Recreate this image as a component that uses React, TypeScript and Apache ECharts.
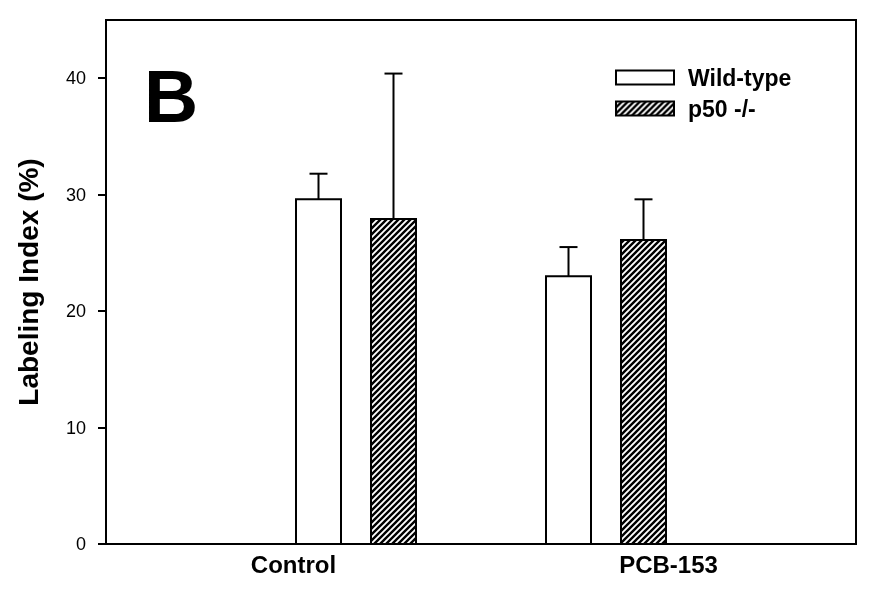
import React, { useEffect, useRef } from 'react';
import * as echarts from 'echarts';

const categories = ['Control', 'PCB-153'];
const seriesNames = ['Wild-type', 'p50 -/-'];
const wildType = [29.6, 23.0];
const wildTypeErr = [2.2, 2.5];
const p50 = [27.9, 26.1];
const p50Err = [12.5, 3.5];
const yTicks = [0, 10, 20, 30, 40];

const FONT = '"Liberation Sans", Arial, Helvetica, sans-serif';

function makeHatch(): HTMLCanvasElement {
  const s = 6;
  const c = document.createElement('canvas');
  c.width = s;
  c.height = s;
  const ctx = c.getContext('2d')!;
  ctx.fillStyle = '#fff';
  ctx.fillRect(0, 0, s, s);
  ctx.strokeStyle = '#000';
  ctx.lineWidth = 2.4;
  ctx.beginPath();
  ctx.moveTo(-1, s + 1);
  ctx.lineTo(s + 1, -1);
  ctx.moveTo(-1, 1);
  ctx.lineTo(1, -1);
  ctx.moveTo(s - 1, s + 1);
  ctx.lineTo(s + 1, s - 1);
  ctx.stroke();
  return c;
}

export default function App() {
  const ref = useRef<HTMLDivElement>(null);
  useEffect(() => {
    if (!ref.current) return;
    const chart = echarts.init(ref.current, undefined, { renderer: 'svg' });
    const hatch = { image: makeHatch(), repeat: 'repeat' } as any;

    // axis layout: x from 0..12, groups centered at 4 and 8, labels at 3 and 9
    const groupCenters = [4, 8];
    const labelPos = [3, 9];
    const offset = 0.6;
    const barW = 0.72;

    const makeRender = (fill: any) => (params: any, api: any) => {
      const x = api.value(0);
      const y = api.value(1);
      const e = api.value(2);
      const base = api.coord([x, 0]);
      const top = api.coord([x, y]);
      const errTop = api.coord([x, y + e]);
      const w = api.size([barW, 0])[0];
      const capW = 18;
      return {
        type: 'group',
        children: [
          {
            type: 'line',
            shape: { x1: top[0], y1: top[1], x2: errTop[0], y2: errTop[1] },
            style: { stroke: '#000', lineWidth: 2 },
          },
          {
            type: 'line',
            shape: { x1: errTop[0] - capW / 2, y1: errTop[1], x2: errTop[0] + capW / 2, y2: errTop[1] },
            style: { stroke: '#000', lineWidth: 2 },
          },
          {
            type: 'rect',
            shape: { x: base[0] - w / 2, y: top[1], width: w, height: base[1] - top[1] },
            style: { fill, stroke: '#000', lineWidth: 2 },
          },
        ],
      };
    };

    const wtData = categories.map((_, i) => [groupCenters[i] - offset, wildType[i], wildTypeErr[i]]);
    const p50Data = categories.map((_, i) => [groupCenters[i] + offset, p50[i], p50Err[i]]);

    chart.setOption({
      animation: false,
      grid: {
        left: 106,
        right: 20,
        top: 20,
        bottom: 49,
        show: true,
        borderColor: '#000',
        borderWidth: 2,
        backgroundColor: 'transparent',
      },
      xAxis: {
        type: 'value',
        min: 0,
        max: 12,
        axisLine: { show: true, lineStyle: { color: '#000', width: 2 } },
        axisTick: { show: false },
        splitLine: { show: false },
        axisLabel: {
          customValues: labelPos,
          formatter: (v: number) => categories[labelPos.indexOf(v)] ?? '',
          color: '#000',
          fontFamily: FONT,
          fontWeight: 'bold',
          fontSize: 24,
          margin: 8,
        },
      },
      yAxis: {
        type: 'value',
        min: 0,
        max: 45,
        interval: 10,
        name: 'Labeling Index (%)',
        nameLocation: 'middle',
        nameGap: 64,
        nameTextStyle: { color: '#000', fontFamily: FONT, fontWeight: 'bold', fontSize: 28 },
        axisLine: { show: true, lineStyle: { color: '#000', width: 2 } },
        axisTick: { show: true, length: 8, customValues: yTicks, lineStyle: { color: '#000', width: 2 } },
        splitLine: { show: false },
        axisLabel: {
          customValues: yTicks,
          color: '#000',
          fontFamily: FONT,
          fontSize: 18,
          margin: 20,
        },
      },
      legend: {
        orient: 'vertical',
        left: 615,
        top: 66,
        padding: 0,
        icon: 'rect',
        itemWidth: 58,
        itemHeight: 14,
        itemGap: 8,
        textStyle: { color: '#000', fontFamily: FONT, fontWeight: 'bold', fontSize: 23, padding: [0, 0, 0, 9] },
        data: seriesNames,
      },
      graphic: [
        {
          type: 'text',
          left: 144,
          top: 58,
          style: { text: 'B', fontFamily: FONT, fontWeight: 'bold', fontSize: 75, fill: '#000' },
        },
      ],
      series: [
        {
          type: 'custom',
          name: seriesNames[0],
          renderItem: makeRender('#fff'),
          encode: { x: 0, y: 1 },
          itemStyle: { color: '#fff', borderColor: '#000', borderWidth: 2 },
          data: wtData,
        },
        {
          type: 'custom',
          name: seriesNames[1],
          renderItem: makeRender(hatch),
          encode: { x: 0, y: 1 },
          itemStyle: { color: hatch, borderColor: '#000', borderWidth: 2 },
          data: p50Data,
        },
      ],
    });
    return () => chart.dispose();
  }, []);
  return <div ref={ref} style={{ position: 'fixed', left: 0, top: 0, width: 876, height: 593 }} />;
}
